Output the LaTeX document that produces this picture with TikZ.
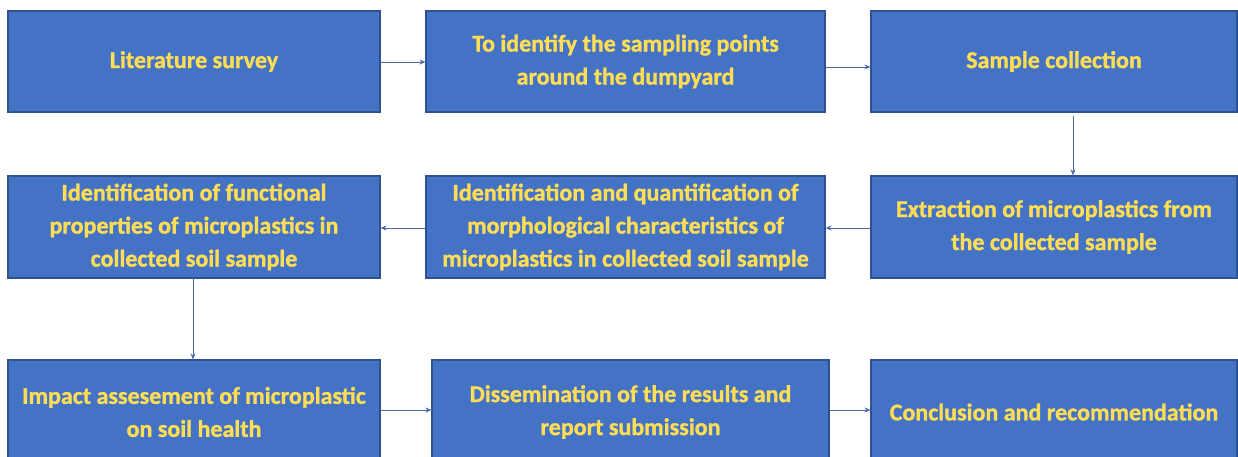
\documentclass[tikz,border=0pt]{standalone}
\usepackage{fontspec}
\setmainfont{Carlito}[BoldFeatures={FakeBold=1.2}]
\usetikzlibrary{arrows.meta}
\definecolor{boxblue}{HTML}{4472C4}
\definecolor{boxedge}{HTML}{2F528F}
\definecolor{txtyellow}{HTML}{FFDD55}
\definecolor{arrowc}{HTML}{4A6AAE}
\tikzset{
  stepbox/.style={draw=boxedge, line width=1.2pt, fill=boxblue, text=txtyellow,
    font=\bfseries\fontsize{24}{33}\selectfont, align=center, inner sep=0pt},
  flow/.style={draw=arrowc, line width=0.9pt, -{Stealth[length=6pt,width=5pt]}}
}
\begin{document}
\begin{tikzpicture}[x=1pt,y=-1pt]
\useasboundingbox (0,0) rectangle (1238,457);
\fill[white] (0,0) rectangle (1238,457);
% row 1
\node[stepbox, minimum width=372pt, minimum height=101pt] (b1) at (194,61.5) {Literature survey};
\node[stepbox, minimum width=399pt, minimum height=101pt] (b2) at (625.5,61.5) {To identify the sampling points\\around the dumpyard};
\node[stepbox, minimum width=366pt, minimum height=101pt] (b3) at (1054,61.5) {Sample collection};
% row 2
\node[stepbox, minimum width=372pt, minimum height=102pt] (b4) at (194,227) {Identification of functional\\properties of microplastics in\\collected soil sample};
\node[stepbox, minimum width=399pt, minimum height=102pt] (b5) at (625.5,227) {Identification and quantification of\\morphological characteristics of\\microplastics in collected soil sample};
\node[stepbox, minimum width=366pt, minimum height=102pt] (b6) at (1054,227) {Extraction of microplastics from\\the collected sample};
% row 3
\node[stepbox, minimum width=372pt, minimum height=104pt] (b7) at (194,412) {Impact assesement of microplastic\\on soil health};
\node[stepbox, minimum width=397pt, minimum height=104pt] (b8) at (630.5,412) {Dissemination of the results and\\report submission};
\node[stepbox, minimum width=366pt, minimum height=104pt] (b9) at (1054,412) {Conclusion and recommendation};
% connectors
\draw[flow] (b1.east |- 0,62) -- (b2.west |- 0,62);
\draw[flow] (b2.east |- 0,67) -- (b3.west |- 0,67);
\draw[flow] (1073,116) coordinate (c1) -- (c1 |- b6.north);
\draw[flow] (b6.west |- 0,228) -- (b5.east |- 0,228);
\draw[flow] (b5.west |- 0,228) -- (b4.east |- 0,228);
\draw[flow] (193,278) coordinate (c2) -- (c2 |- b7.north);
\draw[flow] (b7.east |- 0,410) -- (b8.west |- 0,410);
\draw[flow] (b8.east |- 0,410) -- (b9.west |- 0,410);
\end{tikzpicture}
\end{document}
